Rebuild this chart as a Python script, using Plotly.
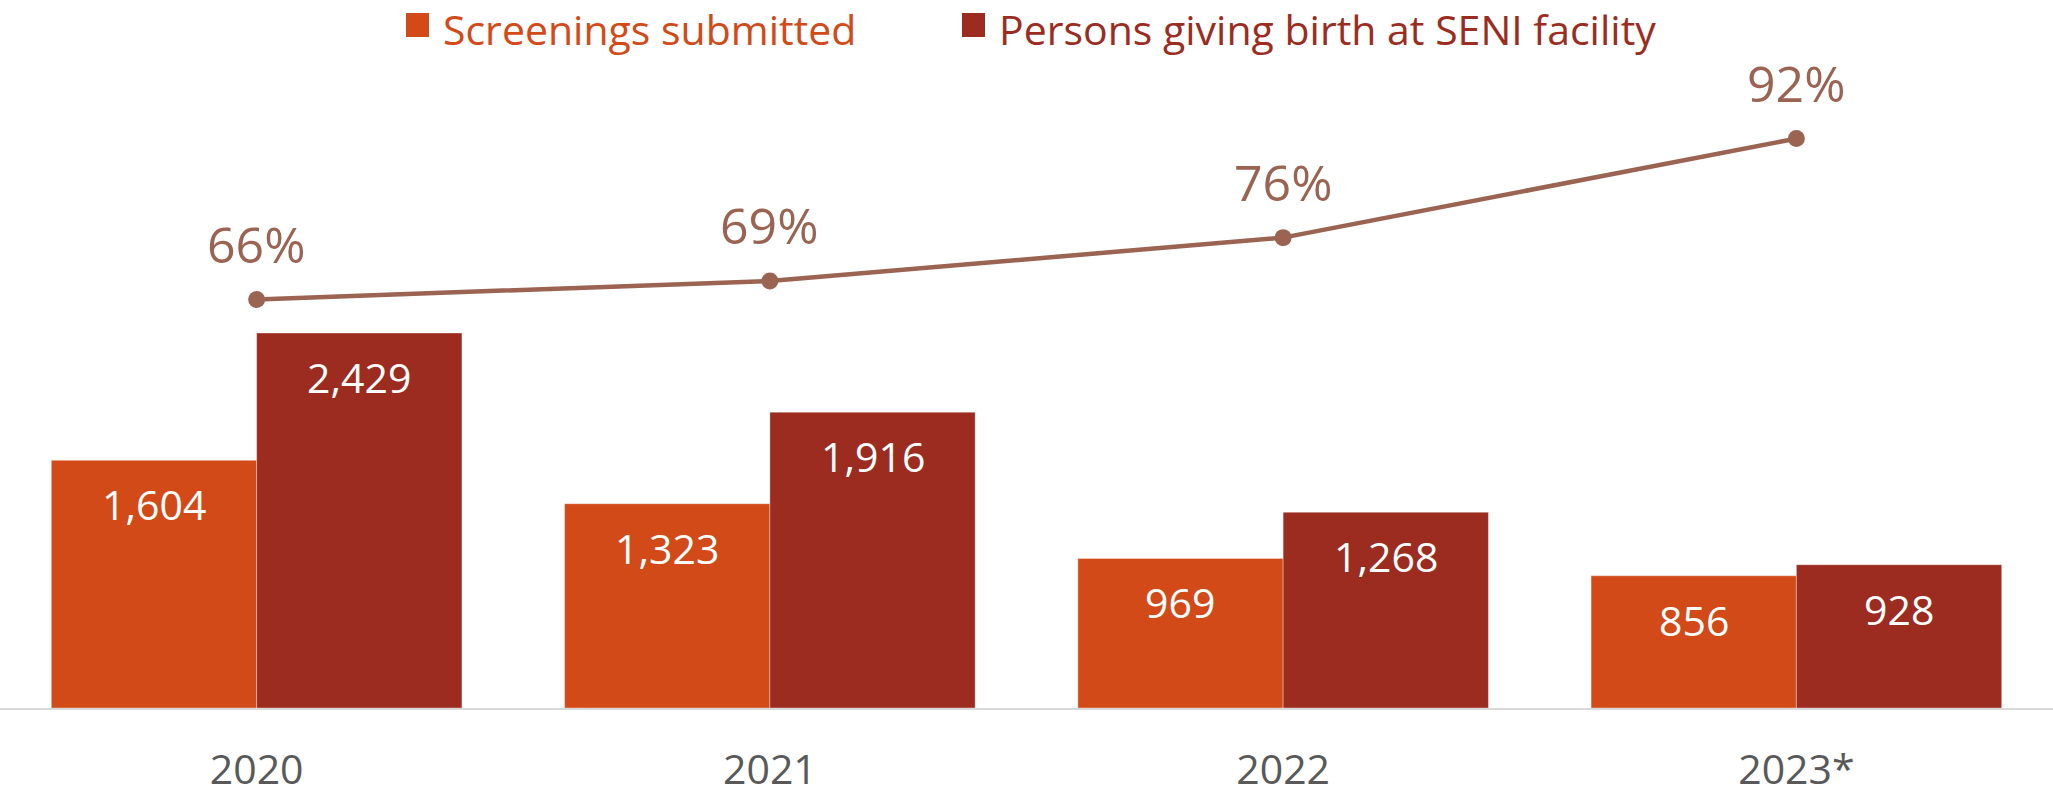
import plotly.graph_objects as go

years = ["2020", "2021", "2022", "2023*"]
screenings = [1604, 1323, 969, 856]
births = [2429, 1916, 1268, 928]
pct = [0.66, 0.69, 0.76, 0.92]
series_names = ["Screenings submitted", "Persons giving birth at SENI facility"]

C_SCREEN = "#D24A18"
C_BIRTH = "#9B2C1F"
C_LINE = "#9A6352"
FONT = "Open Sans"

W, H = 2053, 796
MT, MB = 60, 88
PH = H - MT - MB
BARGAP = 0.2
BAR_W = (1 - BARGAP) / 2  # width of one bar in category units


def py2paper(py):
    return 1 + (MT - py) / PH


fig = go.Figure()

series = [(screenings, series_names[0], C_SCREEN, -BAR_W / 2),
          (births, series_names[1], C_BIRTH, BAR_W / 2)]
for vals, name, col, off in series:
    fig.add_trace(go.Bar(
        x=years, y=vals, name=name,
        marker=dict(color=col, line=dict(width=1, color="rgba(255,255,255,0.35)")),
        showlegend=False, hoverinfo="skip",
    ))
    # value labels inside the top of each bar
    for i, v in enumerate(vals):
        fig.add_annotation(
            x=i + off, y=v, xref="x", yref="y", text=f"{v:,}", showarrow=False,
            yanchor="middle", yshift=-44,
            font=dict(color="white", size=41, family=FONT),
        )

fig.add_trace(go.Scatter(
    x=years, y=pct, yaxis="y2", mode="lines+markers",
    line=dict(color=C_LINE, width=4.5), marker=dict(color=C_LINE, size=17),
    showlegend=False, hoverinfo="skip",
))

# percent labels above the line points (x given as category index)
for i, p in enumerate(pct):
    fig.add_annotation(
        x=i, y=p, xref="x", yref="y2", text=f"{p:.0%}", showarrow=False,
        yanchor="bottom", yshift=20,
        font=dict(color=C_LINE, size=50, family=FONT),
    )

# legend drawn at top (square + coloured text)
legend_items = [(series_names[0], C_SCREEN, 406), (series_names[1], C_BIRTH, 962)]
for name, col, x0 in legend_items:
    fig.add_shape(type="rect", xref="paper", yref="paper",
                  x0=x0 / W, x1=(x0 + 23) / W,
                  y0=py2paper(37), y1=py2paper(13),
                  fillcolor=col, line=dict(width=0))
    fig.add_annotation(x=(x0 + 35) / W, y=py2paper(29), xref="paper", yref="paper",
                       text=name, showarrow=False, xanchor="left", yanchor="middle",
                       font=dict(color=col, size=41, family=FONT))

fig.update_layout(
    width=W, height=H,
    margin=dict(l=0, r=0, t=MT, b=MB),
    paper_bgcolor="white", plot_bgcolor="white",
    barmode="group", bargap=BARGAP, bargroupgap=0,
    showlegend=False,
    font=dict(family=FONT, color="#595959"),
    xaxis=dict(type="category", range=[-0.5, 3.5], showline=True,
               linecolor="#D9D9D9", linewidth=2,
               ticks="", tickfont=dict(size=41, color="#595959", family=FONT),
               ticklabelstandoff=25, automargin=False,
               showgrid=False, zeroline=False),
    yaxis=dict(range=[0, 4197], visible=False, showgrid=False, zeroline=False,
               automargin=False),
    yaxis2=dict(range=[0, 1.047], overlaying="y", visible=False,
                showgrid=False, zeroline=False, automargin=False),
)

fig.write_html("out.html", config={"displayModeBar": False},
               post_script="document.body.style.margin='0';")
